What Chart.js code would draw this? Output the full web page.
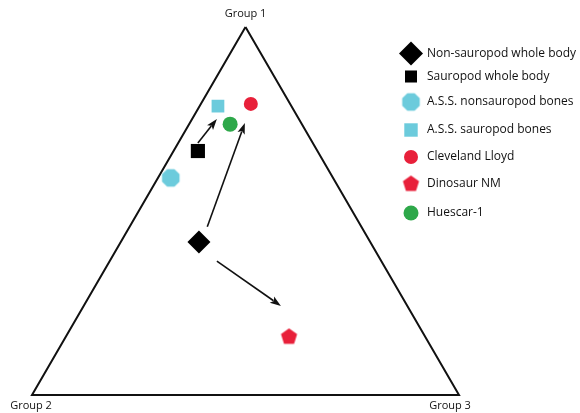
<!DOCTYPE html>
<html>
<head>
<meta charset="utf-8">
<script src="https://cdn.jsdelivr.net/npm/chart.js@4/dist/chart.umd.min.js"></script>
<style>
  html, body { margin: 0; padding: 0; background: #fff; }
  #wrap { width: 580px; height: 413px; }
</style>
</head>
<body>
<div id="wrap"><canvas id="c" width="580" height="413"></canvas></div>
<script>
// Ternary composition (percent) for each sample group
const seriesNames = [
  'Non-sauropod whole body',
  'Sauropod whole body',
  'A.S.S. nonsauropod bones',
  'A.S.S. sauropod bones',
  'Cleveland Lloyd',
  'Dinosaur NM',
  'Huescar-1'
];
const group1 = [41.6, 66.3, 59.0, 78.5, 79.1, 15.8, 73.6];
const group2 = [40.1, 28.0, 38.0, 17.2, 9.2, 31.9, 16.8];
const group3 = [18.3, 5.7, 3.0, 4.3, 11.7, 52.3, 9.6];

// Arrows between compositions (percent of Group 1 / Group 3; Group 2 is the remainder)
const arrowFromG1 = [68.5, 45.7, 36.4];
const arrowFromG3 = [4.6, 18.2, 25.1];
const arrowToG1 = [75.0, 73.9, 24.2];
const arrowToG3 = [5.8, 12.9, 46.2];

// Corner labels
const cornerLabels = ['Group 1', 'Group 2', 'Group 3'];

const H = Math.sqrt(3) / 2;
function toXY(g1, g3) {
  return { x: g3 / 100 + g1 / 200, y: (g1 / 100) * H };
}

function makePolygon(sides, r, color, rot) {
  const c = document.createElement('canvas');
  const s = Math.ceil(2 * r + 2);
  c.width = s; c.height = s;
  const g = c.getContext('2d');
  g.fillStyle = color;
  g.beginPath();
  for (let i = 0; i < sides; i++) {
    const a = rot + (i * 2 * Math.PI) / sides;
    const px = s / 2 + r * Math.cos(a);
    const py = s / 2 + r * Math.sin(a);
    if (i === 0) g.moveTo(px, py); else g.lineTo(px, py);
  }
  g.closePath();
  g.fill();
  return c;
}

const BLUE = '#6ccbdc';
const RED = '#e8203a';
const GREEN = '#2ea84a';

const styles = [
  { pointStyle: 'rectRot', radius: 11.5, color: '#000' },
  { pointStyle: 'rect', radius: 10, color: '#000' },
  { pointStyle: makePolygon(8, 9.5, BLUE, Math.PI / 8), radius: 9.5, color: BLUE },
  { pointStyle: 'rect', radius: 9, color: BLUE },
  { pointStyle: 'circle', radius: 7, color: RED },
  { pointStyle: makePolygon(5, 8.5, RED, -Math.PI / 2), radius: 8.5, color: RED },
  { pointStyle: 'circle', radius: 7.5, color: GREEN }
];
const legendStyles = [
  { pointStyle: 'rectRot', radius: 12, color: '#000' },
  { pointStyle: 'rect', radius: 8.5, color: '#000' },
  { pointStyle: makePolygon(8, 9.5, BLUE, Math.PI / 8), radius: 9.5, color: BLUE },
  { pointStyle: 'rect', radius: 9.5, color: BLUE },
  { pointStyle: 'circle', radius: 7, color: RED },
  { pointStyle: makePolygon(5, 8.5, RED, -Math.PI / 2), radius: 8.5, color: RED },
  { pointStyle: 'circle', radius: 7.5, color: GREEN }
];
const legendRowY = [53.5, 76.5, 102, 130, 157, 184, 213];

const datasets = [];
// triangle outline
datasets.push({
  type: 'scatter',
  data: [toXY(100, 0), toXY(0, 0), toXY(0, 100), toXY(100, 0)],
  showLine: true,
  borderColor: '#111',
  borderWidth: 2,
  pointRadius: 0,
  borderJoinStyle: 'miter',
  fill: false,
  clip: false,
  order: 10
});
seriesNames.forEach((name, i) => {
  const st = styles[i];
  datasets.push({
    label: name,
    data: [toXY(group1[i], group3[i])],
    pointStyle: st.pointStyle,
    pointRadius: st.radius,
    pointHoverRadius: st.radius,
    backgroundColor: st.color,
    borderColor: st.color,
    borderWidth: 0,
    clip: false
  });
});

const arrowsPlugin = {
  id: 'arrows',
  afterDatasetsDraw(chart) {
    const { ctx, scales } = chart;
    ctx.save();
    ctx.strokeStyle = '#111';
    ctx.fillStyle = '#111';
    ctx.lineWidth = 1.6;
    for (let i = 0; i < arrowFromG1.length; i++) {
      const a = toXY(arrowFromG1[i], arrowFromG3[i]);
      const b = toXY(arrowToG1[i], arrowToG3[i]);
      const x1 = scales.x.getPixelForValue(a.x), y1 = scales.y.getPixelForValue(a.y);
      const x2 = scales.x.getPixelForValue(b.x), y2 = scales.y.getPixelForValue(b.y);
      const ang = Math.atan2(y2 - y1, x2 - x1);
      const len = 11, wid = 3.8;
      const bx = x2 - len * Math.cos(ang), by = y2 - len * Math.sin(ang);
      ctx.beginPath();
      ctx.moveTo(x1, y1);
      ctx.lineTo(bx + 2 * Math.cos(ang), by + 2 * Math.sin(ang));
      ctx.stroke();
      ctx.beginPath();
      ctx.moveTo(x2, y2);
      ctx.lineTo(bx - wid * Math.sin(ang), by + wid * Math.cos(ang));
      ctx.lineTo(bx + 2.5 * Math.cos(ang), by + 2.5 * Math.sin(ang));
      ctx.lineTo(bx + wid * Math.sin(ang), by - wid * Math.cos(ang));
      ctx.closePath();
      ctx.fill();
    }
    ctx.restore();
  }
};

const labelsPlugin = {
  id: 'cornerAndLegend',
  afterDraw(chart) {
    const { ctx, scales } = chart;
    ctx.save();
    // corner labels
    ctx.fillStyle = '#111';
    ctx.font = '11px "Open Sans", sans-serif';
    ctx.textAlign = 'center';
    ctx.textBaseline = 'middle';
    const top = toXY(100, 0);
    ctx.fillText(cornerLabels[0], scales.x.getPixelForValue(top.x), scales.y.getPixelForValue(top.y) - 13);
    ctx.fillText(cornerLabels[1], scales.x.getPixelForValue(0) - 1, scales.y.getPixelForValue(0) + 11);
    ctx.fillText(cornerLabels[2], scales.x.getPixelForValue(1) - 9, scales.y.getPixelForValue(0) + 11);
    // legend
    ctx.font = '12px "Open Sans", sans-serif';
    ctx.textAlign = 'left';
    seriesNames.forEach((name, i) => {
      const st = legendStyles[i];
      const y = legendRowY[i];
      ctx.fillStyle = st.color;
      ctx.strokeStyle = st.color;
      Chart.helpers.drawPoint(ctx, { pointStyle: st.pointStyle, radius: st.radius, rotation: 0, borderWidth: 0 }, 411, y);
      ctx.fillStyle = '#111';
      ctx.fillText(name, 427, y);
    });
    ctx.restore();
  }
};

new Chart(document.getElementById('c'), {
  type: 'scatter',
  data: { datasets },
  options: {
    responsive: false,
    animation: false,
    layout: { padding: { left: 32, right: 121, top: 27, bottom: 18 } },
    scales: {
      x: { type: 'linear', min: 0, max: 1, display: false },
      y: { type: 'linear', min: 0, max: H, display: false }
    },
    plugins: { legend: { display: false }, tooltip: { enabled: false } }
  },
  plugins: [arrowsPlugin, labelsPlugin]
});
</script>
</body>
</html>
